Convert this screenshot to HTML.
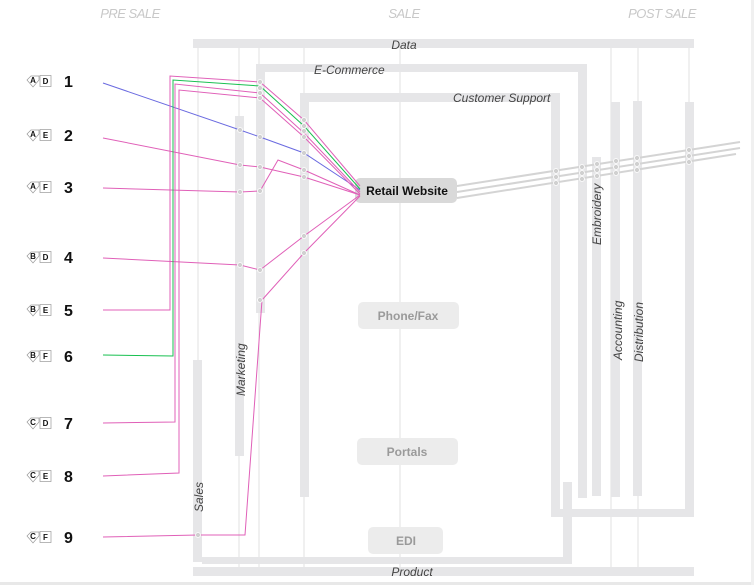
<!DOCTYPE html>
<html><head><meta charset="utf-8"><style>
html,body{margin:0;padding:0;background:#fff}
svg{display:block}
.hd{font:italic 13px "Liberation Sans",sans-serif;fill:#c8c8c8;text-anchor:middle;letter-spacing:-0.5px}
.lb{font:italic 12px "Liberation Sans",sans-serif;fill:#444}
.num{font:bold 16px "Liberation Sans",sans-serif;fill:#111}
.ic{font:bold 8px "Liberation Sans",sans-serif;fill:#111;text-anchor:middle}
</style></head><body>
<svg width="754" height="585" viewBox="0 0 754 585" xmlns="http://www.w3.org/2000/svg">
<rect x="0" y="0" width="754" height="585" fill="#fff"/>
<rect x="0" y="582" width="754" height="3" fill="#e8e8e8"/>
<rect x="751" y="0" width="3" height="585" fill="#f0f0f0"/>
<text class="hd" x="130" y="18">PRE SALE</text>
<text class="hd" x="404" y="18">SALE</text>
<text class="hd" x="662" y="18">POST SALE</text>

<g stroke="#e2e2e2" stroke-width="1">
<line x1="198" y1="47" x2="198" y2="360"/>
<line x1="239" y1="47" x2="239" y2="567"/>
<line x1="259" y1="47" x2="259" y2="567"/>
<line x1="304" y1="47" x2="304" y2="567"/>
<line x1="400" y1="47" x2="400" y2="567"/>
<line x1="611" y1="47" x2="611" y2="567"/>
<line x1="638" y1="47" x2="638" y2="567"/>
<line x1="689" y1="47" x2="689" y2="102"/>
</g>

<g fill="#e6e6e8">
<rect x="193" y="39" width="501" height="9"/>
<rect x="193" y="567" width="501" height="9"/>
<rect x="256" y="64" width="331" height="8"/>
<rect x="256" y="64" width="9" height="249"/>
<rect x="578" y="64" width="9" height="434"/>
<rect x="300" y="93" width="260" height="9"/>
<rect x="300" y="93" width="9" height="404"/>
<rect x="551" y="93" width="9" height="424"/>
<rect x="551" y="509" width="143" height="8"/>
<rect x="685" y="102" width="9" height="415"/>
<rect x="193" y="360" width="9" height="202"/>
<rect x="202" y="557" width="370" height="7"/>
<rect x="563" y="482" width="9" height="82"/>
<rect x="235" y="116" width="9" height="340"/>
<rect x="592" y="157" width="9" height="339"/>
<rect x="611" y="102" width="9" height="395"/>
<rect x="633" y="101" width="9" height="395"/>
</g>

<text class="lb" x="404" y="49" text-anchor="middle">Data</text>
<text class="lb" x="412" y="576" text-anchor="middle">Product</text>
<text class="lb" x="314" y="74">E-Commerce</text>
<text class="lb" x="453" y="102">Customer Support</text>
<text class="lb" transform="translate(203,512) rotate(-90)">Sales</text>
<text class="lb" transform="translate(245,396) rotate(-90)">Marketing</text>
<text class="lb" transform="translate(601,245) rotate(-90)">Embroidery</text>
<text class="lb" transform="translate(622,360) rotate(-90)">Accounting</text>
<text class="lb" transform="translate(643,362) rotate(-90)">Distribution</text>

<rect x="355" y="178" width="102" height="25" rx="5" fill="#d9d9d9"/>
<text x="407" y="195" text-anchor="middle" style="font:bold 12px 'Liberation Sans',sans-serif;fill:#111">Retail Website</text>
<g fill="#ececec">
<rect x="358" y="302" width="101" height="27" rx="5"/>
<rect x="357" y="438" width="101" height="27" rx="5"/>
<rect x="368" y="527" width="75" height="27" rx="5"/>
</g>
<g style="font:bold 12px 'Liberation Sans',sans-serif;fill:#9a9a9a" text-anchor="middle">
<text x="408" y="320">Phone/Fax</text>
<text x="407" y="456">Portals</text>
<text x="406" y="545">EDI</text>
</g>

<g stroke="#d4d4d4" stroke-width="2" fill="none">
<line x1="457" y1="186" x2="740" y2="142"/>
<line x1="457" y1="192" x2="740" y2="148"/>
<line x1="457" y1="198" x2="736" y2="154"/>
</g>

<g fill="none" stroke-width="1">
<polyline stroke="#6a6ae0" points="103,83 240,130 260,137 304,153 360,190"/>
<g stroke="#e060b8">
<polyline points="103,138 240,165 260,167 304,177 360,195"/>
<polyline points="103,188 240,192 260,191 278,160 304,170 360,195"/>
<polyline points="103,258 240,265 260,270 304,236 360,195"/>
<polyline points="103,310 170,310 170,76 260,82 304,120 360,186"/>
<polyline points="103,423 175,422 175,84 260,93 304,133 360,192"/>
<polyline points="103,476 179,473 179,90 260,98 304,137 360,194"/>
<polyline points="103,537 198,535 245,535 262,300 304,253 360,196"/>
</g>
<polyline stroke="#18c050" points="103,355 173,356 173,80 260,86 304,126 360,189"/>
</g>

<g fill="#d0d0d0" stroke="#fff" stroke-width="0.8">
<circle cx="260" cy="82" r="2.5"/><circle cx="260" cy="88" r="2.5"/><circle cx="260" cy="93" r="2.5"/><circle cx="260" cy="98" r="2.5"/>
<circle cx="304" cy="120" r="2.5"/><circle cx="304" cy="126" r="2.5"/><circle cx="304" cy="131" r="2.5"/><circle cx="304" cy="137" r="2.5"/>
<circle cx="240" cy="130" r="2.5"/><circle cx="260" cy="137" r="2.5"/><circle cx="304" cy="153" r="2.5"/>
<circle cx="240" cy="165" r="2.5"/><circle cx="260" cy="167" r="2.5"/><circle cx="304" cy="170" r="2.5"/><circle cx="304" cy="177" r="2.5"/>
<circle cx="240" cy="192" r="2.5"/><circle cx="260" cy="191" r="2.5"/>
<circle cx="240" cy="265" r="2.5"/><circle cx="260" cy="270" r="2.5"/><circle cx="304" cy="236" r="2.5"/><circle cx="304" cy="253" r="2.5"/>
<circle cx="260" cy="300" r="2.5"/><circle cx="198" cy="535" r="2.5"/>
<circle cx="556" cy="171" r="2.5"/><circle cx="556" cy="177" r="2.5"/><circle cx="556" cy="183" r="2.5"/>
<circle cx="582" cy="167" r="2.5"/><circle cx="582" cy="173" r="2.5"/><circle cx="582" cy="179" r="2.5"/>
<circle cx="597" cy="164" r="2.5"/><circle cx="597" cy="170" r="2.5"/><circle cx="597" cy="176" r="2.5"/>
<circle cx="616" cy="161" r="2.5"/><circle cx="616" cy="167" r="2.5"/><circle cx="616" cy="173" r="2.5"/>
<circle cx="637" cy="158" r="2.5"/><circle cx="637" cy="164" r="2.5"/><circle cx="637" cy="170" r="2.5"/>
<circle cx="689" cy="150" r="2.5"/><circle cx="689" cy="156" r="2.5"/><circle cx="689" cy="162" r="2.5"/>
</g>

<g>
<g transform="translate(0,81)"><path d="M27,-1 L31,-5 L39,-5 L39,-1 L33,6 Z" fill="#fff" stroke="#999" stroke-width="0.7"/><text class="ic" x="33" y="2">A</text><rect x="40" y="-5.5" width="11" height="11" fill="#fff" stroke="#999" stroke-width="0.7"/><text class="ic" x="45.5" y="3">D</text><text class="num" x="64" y="6">1</text></g>
<g transform="translate(0,135)"><path d="M27,-1 L31,-5 L39,-5 L39,-1 L33,6 Z" fill="#fff" stroke="#999" stroke-width="0.7"/><text class="ic" x="33" y="2">A</text><rect x="40" y="-5.5" width="11" height="11" fill="#fff" stroke="#999" stroke-width="0.7"/><text class="ic" x="45.5" y="3">E</text><text class="num" x="64" y="6">2</text></g>
<g transform="translate(0,187)"><path d="M27,-1 L31,-5 L39,-5 L39,-1 L33,6 Z" fill="#fff" stroke="#999" stroke-width="0.7"/><text class="ic" x="33" y="2">A</text><rect x="40" y="-5.5" width="11" height="11" fill="#fff" stroke="#999" stroke-width="0.7"/><text class="ic" x="45.5" y="3">F</text><text class="num" x="64" y="6">3</text></g>
<g transform="translate(0,257)"><path d="M27,-1 L31,-5 L39,-5 L39,-1 L33,6 Z" fill="#fff" stroke="#999" stroke-width="0.7"/><text class="ic" x="33" y="2">B</text><rect x="40" y="-5.5" width="11" height="11" fill="#fff" stroke="#999" stroke-width="0.7"/><text class="ic" x="45.5" y="3">D</text><text class="num" x="64" y="6">4</text></g>
<g transform="translate(0,310)"><path d="M27,-1 L31,-5 L39,-5 L39,-1 L33,6 Z" fill="#fff" stroke="#999" stroke-width="0.7"/><text class="ic" x="33" y="2">B</text><rect x="40" y="-5.5" width="11" height="11" fill="#fff" stroke="#999" stroke-width="0.7"/><text class="ic" x="45.5" y="3">E</text><text class="num" x="64" y="6">5</text></g>
<g transform="translate(0,356)"><path d="M27,-1 L31,-5 L39,-5 L39,-1 L33,6 Z" fill="#fff" stroke="#999" stroke-width="0.7"/><text class="ic" x="33" y="2">B</text><rect x="40" y="-5.5" width="11" height="11" fill="#fff" stroke="#999" stroke-width="0.7"/><text class="ic" x="45.5" y="3">F</text><text class="num" x="64" y="6">6</text></g>
<g transform="translate(0,423)"><path d="M27,-1 L31,-5 L39,-5 L39,-1 L33,6 Z" fill="#fff" stroke="#999" stroke-width="0.7"/><text class="ic" x="33" y="2">C</text><rect x="40" y="-5.5" width="11" height="11" fill="#fff" stroke="#999" stroke-width="0.7"/><text class="ic" x="45.5" y="3">D</text><text class="num" x="64" y="6">7</text></g>
<g transform="translate(0,476)"><path d="M27,-1 L31,-5 L39,-5 L39,-1 L33,6 Z" fill="#fff" stroke="#999" stroke-width="0.7"/><text class="ic" x="33" y="2">C</text><rect x="40" y="-5.5" width="11" height="11" fill="#fff" stroke="#999" stroke-width="0.7"/><text class="ic" x="45.5" y="3">E</text><text class="num" x="64" y="6">8</text></g>
<g transform="translate(0,537)"><path d="M27,-1 L31,-5 L39,-5 L39,-1 L33,6 Z" fill="#fff" stroke="#999" stroke-width="0.7"/><text class="ic" x="33" y="2">C</text><rect x="40" y="-5.5" width="11" height="11" fill="#fff" stroke="#999" stroke-width="0.7"/><text class="ic" x="45.5" y="3">F</text><text class="num" x="64" y="6">9</text></g>
</g>
</svg>
</body></html>
